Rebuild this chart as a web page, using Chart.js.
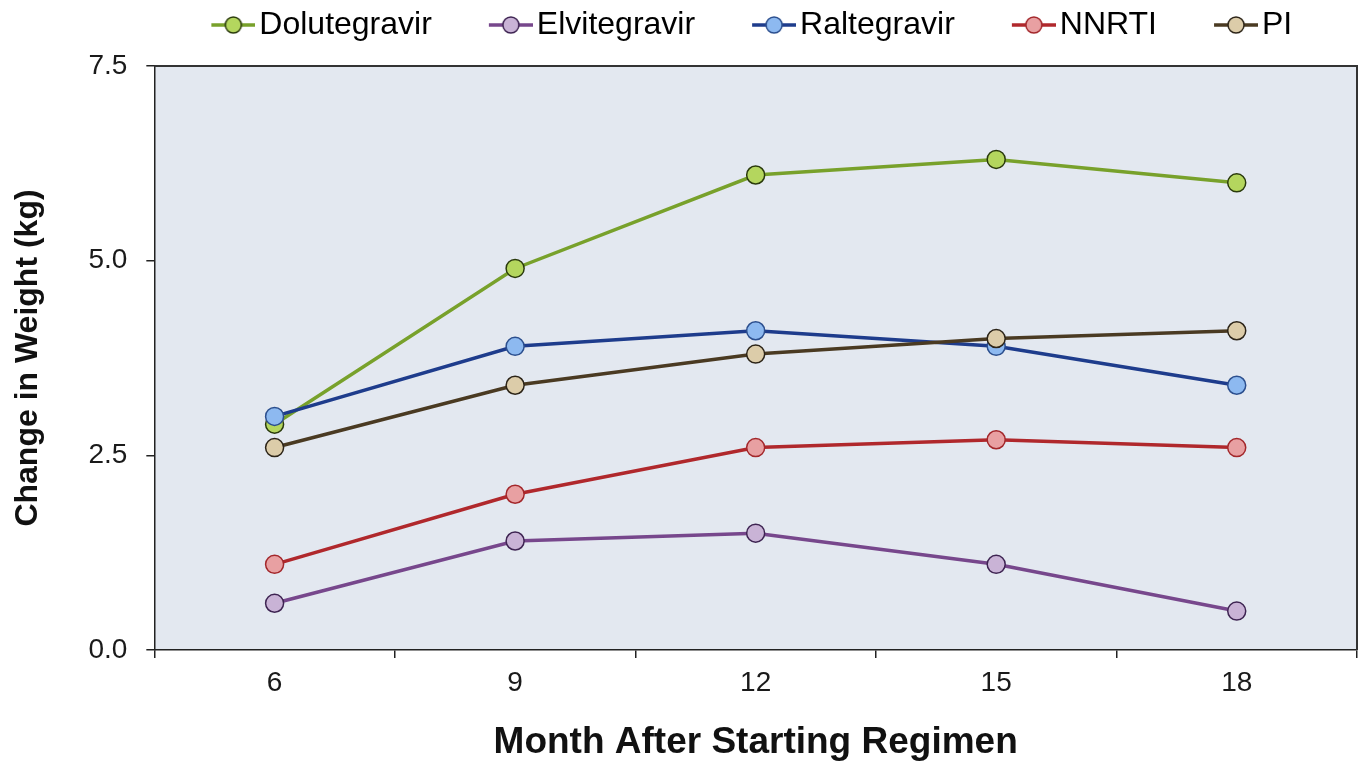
<!DOCTYPE html>
<html>
<head>
<meta charset="utf-8">
<script src="https://cdn.jsdelivr.net/npm/chart.js@4/dist/chart.umd.min.js"></script>
<style>
  html, body { margin: 0; padding: 0; background: #ffffff; }
  #wrap { width: 1364px; height: 771px; }
</style>
</head>
<body>
<div id="wrap"><canvas id="c" width="1364" height="771"></canvas></div>
<script>
// Months since the regimen was started
const months = ['6', '9', '12', '15', '18'];

// Mean change in weight (kg) for each regimen
const dolutegravir = [2.9, 4.9, 6.1, 6.3, 6.0];
const elvitegravir = [0.6, 1.4, 1.5, 1.1, 0.5];
const raltegravir  = [3.0, 3.9, 4.1, 3.9, 3.4];
const nnrti        = [1.1, 2.0, 2.6, 2.7, 2.6];
const pi           = [2.6, 3.4, 3.8, 4.0, 4.1];

const seriesNames = ['Dolutegravir', 'Elvitegravir', 'Raltegravir', 'NNRTI', 'PI'];
const seriesValues = [dolutegravir, elvitegravir, raltegravir, nnrti, pi];

// Value axis tick labels
const yTicks = [0, 2.5, 5.0, 7.5];

const lineColors = ['#78A12B', '#77478C', '#1E3C8C', '#B0282C', '#4A3A22'];
const fillColors = ['#B4D65E', '#C9B3D6', '#8DB9F0', '#E8A0A2', '#DCCCA9'];
const edgeColors = ['#2A3A0C', '#3E2452', '#2C4F8E', '#A3272B', '#2C2418'];

const FONT = '"Liberation Sans", Arial, Helvetica, sans-serif';
Chart.defaults.font.family = FONT;

// Legend swatch: a short line with a circle marker, right-aligned in the image
function legendMarker(line, fill, edge) {
  const W = 105, H = 22;
  const c = document.createElement('canvas');
  c.width = W; c.height = H;
  const g = c.getContext('2d');
  const x0 = W - 44, cy = H / 2;
  g.strokeStyle = line; g.lineWidth = 3.5;
  g.beginPath(); g.moveTo(x0, cy); g.lineTo(W, cy); g.stroke();
  g.beginPath(); g.arc(x0 + 22, cy, 8, 0, Math.PI * 2);
  g.fillStyle = fill; g.fill();
  g.lineWidth = 1.5; g.strokeStyle = edge; g.stroke();
  return c;
}
const markers = seriesNames.map((_, i) => legendMarker(lineColors[i], fillColors[i], edgeColors[i]));

// Plot panel background plus top/right frame
const plotFrame = {
  id: 'plotFrame',
  beforeDraw(chart) {
    const { ctx, chartArea: a } = chart;
    ctx.save();
    ctx.fillStyle = '#E3E8F0';
    ctx.fillRect(a.left, a.top, a.right - a.left, a.bottom - a.top);
    ctx.restore();
  },
  beforeDatasetsDraw(chart) {
    const { ctx, chartArea: a } = chart;
    ctx.save();
    ctx.strokeStyle = '#333333';
    ctx.lineWidth = 2;
    ctx.beginPath();
    ctx.moveTo(a.left, a.top);
    ctx.lineTo(a.right, a.top);
    ctx.lineTo(a.right, a.bottom);
    ctx.stroke();
    ctx.restore();
  }
};

const datasets = seriesNames.map((name, i) => ({
  label: name,
  data: seriesValues[i],
  borderColor: lineColors[i],
  backgroundColor: fillColors[i],
  borderWidth: 3.5,
  pointRadius: 9,
  pointHoverRadius: 9,
  pointBackgroundColor: fillColors[i],
  pointBorderColor: edgeColors[i],
  pointBorderWidth: 1.5,
  tension: 0,
  order: seriesNames.length - i
}));

new Chart(document.getElementById('c'), {
  type: 'line',
  data: { labels: months, datasets },
  plugins: [plotFrame],
  options: {
    responsive: false,
    animation: false,
    events: [],
    layout: { autoPadding: false, padding: { top: 1, right: 7, bottom: 0, left: 0 } },
    plugins: {
      tooltip: { enabled: false },
      title: {
        display: true, text: '', position: 'top', weight: 500,
        font: { size: 10, lineHeight: 1.2 }, padding: { top: 1.5, bottom: 1.5 }
      },
      legend: {
        position: 'top',
        align: 'start',
        fullSize: false,
        labels: {
          usePointStyle: true,
          pointStyleWidth: 81,
          padding: 8,
          color: '#111111',
          font: { family: FONT, size: 32 },
          sort: (a, b) => a.datasetIndex - b.datasetIndex,
          generateLabels: (chart) => chart.data.datasets.map((ds, i) => ({
            text: ds.label,
            datasetIndex: i,
            pointStyle: markers[i],
            fillStyle: fillColors[i],
            strokeStyle: lineColors[i],
            lineWidth: 0,
            hidden: false
          }))
        }
      }
    },
    scales: {
      x: {
        type: 'category',
        offset: true,
        grid: { offset: true, drawOnChartArea: false, tickLength: 8, color: '#222222', lineWidth: 1.5 },
        border: { color: '#222222', width: 1.5 },
        ticks: { padding: 8, color: '#1a1a1a', font: { size: 28 } },
        title: {
          display: true, text: 'Month After Starting Regimen', color: '#111111',
          font: { size: 37, weight: 'bold' }, padding: { top: 13, bottom: 6 }
        }
      },
      y: {
        min: yTicks[0],
        max: yTicks[yTicks.length - 1],
        afterBuildTicks: (scale) => { scale.ticks = yTicks.map(v => ({ value: v })); },
        grid: { drawOnChartArea: false, tickLength: 8, color: '#222222', lineWidth: 1.5 },
        border: { color: '#222222', width: 1.5 },
        ticks: { padding: 19, color: '#1a1a1a', font: { size: 28 }, callback: (v) => Number(v).toFixed(1) },
        title: {
          display: true, text: 'Change in Weight (kg)', color: '#111111',
          font: { size: 32, weight: 'bold' }, padding: { top: 9, bottom: 22 }
        }
      }
    }
  }
});
</script>
</body>
</html>
